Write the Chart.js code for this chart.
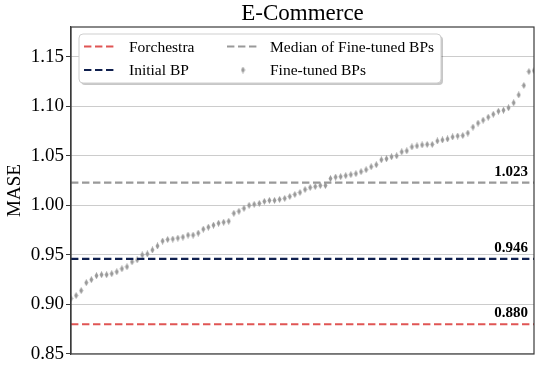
<!DOCTYPE html>
<html>
<head>
<meta charset="utf-8">
<script src="https://cdn.jsdelivr.net/npm/chart.js@4.4.1/dist/chart.umd.min.js"></script>
<style>
    html, body { margin: 0; padding: 0; background: #ffffff; }
</style>
</head>
<body>
<canvas id="chart" width="540" height="371"></canvas>
<script>
// MASE of each fine-tuned BP, sorted ascending
const fineTunedMase = [
    0.906, 0.909, 0.914, 0.922, 0.925, 0.929, 0.930, 0.930, 0.931, 0.933,
    0.936, 0.938, 0.943, 0.945, 0.950, 0.951, 0.955, 0.959, 0.964, 0.9655,
    0.966, 0.967, 0.968, 0.970, 0.970, 0.972, 0.976, 0.978, 0.980, 0.982,
    0.983, 0.984, 0.992, 0.994, 0.997, 1.000, 1.001, 1.002, 1.004, 1.005,
    1.005, 1.006, 1.007, 1.009, 1.011, 1.013, 1.016, 1.018, 1.019, 1.020,
    1.020, 1.027, 1.0285, 1.029, 1.030, 1.031, 1.032, 1.034, 1.036, 1.039,
    1.041, 1.046, 1.047, 1.049, 1.050, 1.054, 1.055, 1.059, 1.060, 1.061,
    1.0615, 1.0615, 1.065, 1.066, 1.067, 1.069, 1.070, 1.0705, 1.073, 1.079,
    1.083, 1.086, 1.089, 1.092, 1.095, 1.096, 1.0985, 1.1035, 1.1115, 1.121,
    1.135, 1.136
];

const forchestraMase = 0.880;
const initialBpMase = 0.946;
const medianMase = 1.023;

const seriesLabels = ['Forchestra', 'Initial BP', 'Median of Fine-tuned BPs', 'Fine-tuned BPs'];
const colors = {
    forchestra: '#e05554',
    initial: '#0f1f4e',
    median: '#999999',
    points: '#999999'
};

const serif = '"Liberation Serif", "Times New Roman", serif';
const lastIndex = fineTunedMase.length - 1;
const dash = [7.4, 3.6];

// thin diamond marker, like matplotlib's 'd'
const diamond = document.createElement('canvas');
diamond.width = 5;
diamond.height = 7;
(function () {
    const c = diamond.getContext('2d');
    c.fillStyle = colors.points;
    c.beginPath();
    c.moveTo(2.5, 0);
    c.lineTo(4.5, 3.5);
    c.lineTo(2.5, 7);
    c.lineTo(0.5, 3.5);
    c.closePath();
    c.fill();
})();

function flatLine(value) {
    return [{ x: 0, y: value }, { x: lastIndex, y: value }];
}

function roundRect(ctx, x, y, w, h, r) {
    ctx.beginPath();
    ctx.moveTo(x + r, y);
    ctx.lineTo(x + w - r, y);
    ctx.arcTo(x + w, y, x + w, y + r, r);
    ctx.lineTo(x + w, y + h - r);
    ctx.arcTo(x + w, y + h, x + w - r, y + h, r);
    ctx.lineTo(x + r, y + h);
    ctx.arcTo(x, y + h, x, y + h - r, r);
    ctx.lineTo(x, y + r);
    ctx.arcTo(x, y, x + r, y, r);
    ctx.closePath();
}

const decorations = {
    id: 'decorations',
    afterDatasetsDraw(chart) {
        const ctx = chart.ctx;
        const area = chart.chartArea;
        const yScale = chart.scales.y;

        // value labels above each reference line
        ctx.save();
        ctx.font = 'bold 15px ' + serif;
        ctx.fillStyle = '#000000';
        ctx.textAlign = 'right';
        ctx.textBaseline = 'alphabetic';
        [medianMase, initialBpMase, forchestraMase].forEach(v => {
            ctx.fillText(v.toFixed(3), area.right - 6, yScale.getPixelForValue(v) - 7);
        });
        ctx.restore();
    },
    afterDraw(chart) {
        const ctx = chart.ctx;
        const area = chart.chartArea;

        // frame
        ctx.save();
        ctx.strokeStyle = '#3a3a3a';
        ctx.lineWidth = 1.2;
        ctx.strokeRect(area.left, area.top, area.right - area.left, area.bottom - area.top);

        // title
        ctx.font = '23px ' + serif;
        ctx.fillStyle = '#000000';
        ctx.textAlign = 'center';
        ctx.textBaseline = 'middle';
        ctx.fillText('E-Commerce', (area.left + area.right) / 2, 14);

        // legend
        const lx = 79, ly = 34, lw = 362, lh = 49;
        ctx.fillStyle = 'rgba(0,0,0,0.22)';
        roundRect(ctx, lx + 2, ly + 2, lw, lh, 4);
        ctx.fill();
        ctx.fillStyle = '#ffffff';
        roundRect(ctx, lx, ly, lw, lh, 4);
        ctx.fill();
        ctx.strokeStyle = '#cfcfcf';
        ctx.lineWidth = 1;
        ctx.stroke();

        const rows = [46.5, 70];
        const entries = [
            { col: 0, row: 0, color: colors.forchestra, kind: 'line', label: seriesLabels[0] },
            { col: 0, row: 1, color: colors.initial, kind: 'line', label: seriesLabels[1] },
            { col: 1, row: 0, color: colors.median, kind: 'line', label: seriesLabels[2] },
            { col: 1, row: 1, color: colors.points, kind: 'point', label: seriesLabels[3] }
        ];
        const handleX = [84, 227];
        const textX = [129, 270];
        ctx.font = '15.5px ' + serif;
        ctx.textAlign = 'left';
        ctx.textBaseline = 'middle';
        entries.forEach(e => {
            const y = rows[e.row];
            const hx = handleX[e.col];
            if (e.kind === 'line') {
                ctx.strokeStyle = e.color;
                ctx.lineWidth = 2.2;
                ctx.setLineDash(dash);
                ctx.beginPath();
                ctx.moveTo(hx, y);
                ctx.lineTo(hx + 32, y);
                ctx.stroke();
                ctx.setLineDash([]);
            } else {
                ctx.drawImage(diamond, hx + 16 - 2.5, y - 3.5);
            }
            ctx.fillStyle = '#000000';
            ctx.fillText(e.label, textX[e.col], y + 1);
        });
        ctx.restore();
    }
};

const lineStyle = (label, data, color) => ({
    type: 'line',
    label: label,
    data: data,
    borderColor: color,
    borderWidth: 2.2,
    borderDash: dash,
    pointRadius: 0,
    fill: false
});

new Chart(document.getElementById('chart'), {
    type: 'scatter',
    data: {
        datasets: [
            lineStyle(seriesLabels[0], flatLine(forchestraMase), colors.forchestra),
            lineStyle(seriesLabels[1], flatLine(initialBpMase), colors.initial),
            lineStyle(seriesLabels[2], flatLine(medianMase), colors.median),
            {
                label: seriesLabels[3],
                data: fineTunedMase.map((v, i) => ({ x: i, y: v })),
                pointStyle: diamond,
                pointRadius: 3,
                backgroundColor: colors.points,
                borderColor: colors.points
            }
        ]
    },
    options: {
        responsive: false,
        animation: false,
        devicePixelRatio: 1,
        layout: {
            padding: { top: 27, right: 6, bottom: 17, left: 0 }
        },
        plugins: {
            legend: { display: false },
            title: { display: false },
            tooltip: { enabled: false }
        },
        scales: {
            x: {
                type: 'linear',
                min: 0,
                max: lastIndex,
                display: false
            },
            y: {
                min: 0.85,
                max: 1.18,
                afterFit: scale => { scale.width = 71; },
                ticks: {
                    stepSize: 0.05,
                    includeBounds: false,
                    color: '#000000',
                    padding: 2,
                    font: { family: serif, size: 19 },
                    callback: v => v.toFixed(2)
                },
                grid: {
                    color: '#cccccc',
                    tickColor: '#3a3a3a',
                    tickLength: 5
                },
                border: { display: true, color: '#3a3a3a', width: 1.2 },
                title: {
                    display: true,
                    text: 'MASE',
                    color: '#000000',
                    font: { family: serif, size: 19 },
                    padding: { top: 4, bottom: 0 }
                }
            }
        }
    },
    plugins: [decorations]
});
</script>
</body>
</html>
